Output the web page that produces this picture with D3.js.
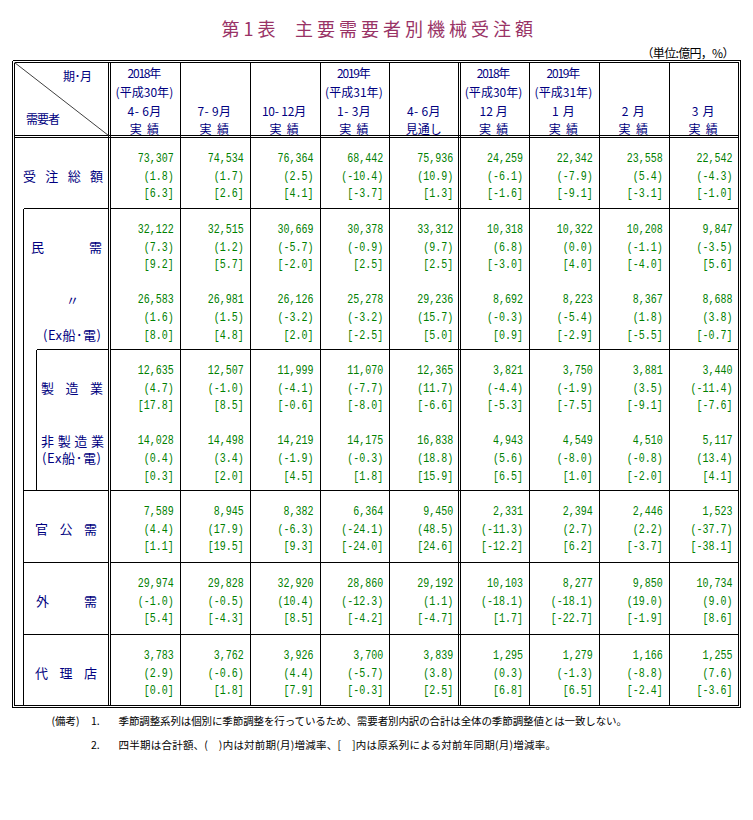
<!DOCTYPE html>
<html><head><meta charset="utf-8">
<script src="https://cdn.jsdelivr.net/npm/d3@7"></script>
<style>html,body{margin:0;padding:0;background:#fff;} svg{display:block}</style>
</head><body><div id="chart"></div>
<script>
// ---------- data ----------
const titleNo = "第1表";
const titleMain = "主要需要者別機械受注額";
const unitLabel = "（単位:億円，%）";
const cornerTop = "期･月";
const cornerBottom = "需要者";
const headerYears = ["2018年","","","2019年","","2018年","2019年","",""];
const headerEras = ["(平成30年)","","","(平成31年)","","(平成30年)","(平成31年)","",""];
const headerPeriods = ["4- 6月","7- 9月","10- 12月","1- 3月","4- 6月","12 月","1 月","2 月","3 月"];
const headerKinds = ["実 績","実 績","実 績","実 績","見通し","実 績","実 績","実 績","実 績"];
const demanderLabels = [["受注総額"],["民需"],["〃","(Ex船･電)"],["製造業"],["非製造業","(Ex船･電)"],["官公需"],["外需"],["代理店"]];

const orderAmounts = [
  [73307,74534,76364,68442,75936,24259,22342,23558,22542],
  [32122,32515,30669,30378,33312,10318,10322,10208,9847],
  [26583,26981,26126,25278,29236,8692,8223,8367,8688],
  [12635,12507,11999,11070,12365,3821,3750,3881,3440],
  [14028,14498,14219,14175,16838,4943,4549,4510,5117],
  [7589,8945,8382,6364,9450,2331,2394,2446,1523],
  [29974,29828,32920,28860,29192,10103,8277,9850,10734],
  [3783,3762,3926,3700,3839,1295,1279,1166,1255]
];
const changePrev = [
  [1.8,1.7,2.5,-10.4,10.9,-6.1,-7.9,5.4,-4.3],
  [7.3,1.2,-5.7,-0.9,9.7,6.8,0.0,-1.1,-3.5],
  [1.6,1.5,-3.2,-3.2,15.7,-0.3,-5.4,1.8,3.8],
  [4.7,-1.0,-4.1,-7.7,11.7,-4.4,-1.9,3.5,-11.4],
  [0.4,3.4,-1.9,-0.3,18.8,5.6,-8.0,-0.8,13.4],
  [4.4,17.9,-6.3,-24.1,48.5,-11.3,2.7,2.2,-37.7],
  [-1.0,-0.5,10.4,-12.3,1.1,-18.1,-18.1,19.0,9.0],
  [2.9,-0.6,4.4,-5.7,3.8,0.3,-1.3,-8.8,7.6]
];
const changeYoY = [
  [6.3,2.6,4.1,-3.7,1.3,-1.6,-9.1,-3.1,-1.0],
  [9.2,5.7,-2.0,2.5,2.5,-3.0,4.0,-4.0,5.6],
  [8.0,4.8,2.0,-2.5,5.0,0.9,-2.9,-5.5,-0.7],
  [17.8,8.5,-0.6,-8.0,-6.6,-5.3,-7.5,-9.1,-7.6],
  [0.3,2.0,4.5,1.8,15.9,6.5,1.0,-2.0,4.1],
  [1.1,19.5,9.3,-24.0,24.6,-12.2,6.2,-3.7,-38.1],
  [5.4,-4.3,8.5,-4.2,-4.7,1.7,-22.7,-1.9,8.6],
  [0.0,1.8,7.9,-0.3,2.5,6.8,6.5,-2.4,-3.6]
];
const noteLabel = "(備考)";
const noteNumbers = ["1.","2."];
const noteTexts = [
  "季節調整系列は個別に季節調整を行っているため、需要者別内訳の合計は全体の季節調整値とは一致しない。",
  "四半期は合計額、(　)内は対前期(月)増減率、[　]内は原系列による対前年同期(月)増減率。"
];

// ---------- layout ----------
const W = 753, H = 820;
const CJK = "'Noto Sans CJK JP','Noto Sans CJK SC',sans-serif";
const MONO = "'Liberation Mono','DejaVu Sans Mono',monospace";
const NAVY = "#000080", GREEN = "#008000", TITLE_C = "#993366";

const svg = d3.select("#chart").append("svg")
  .attr("width", W).attr("height", H)
  .style("background", "#fff");

const oL = 12.5, oR = 740.5, oT = 60.5, oB = 707.5;
const iL = 14.5, iR = 738.5, iT = 62.5, iB = 705.5;
const splitA = 108.5, splitB = 110.5;

const nCols = headerPeriods.length;
const x = d3.scaleBand().domain(d3.range(nCols)).range([110.5, 739]);
const edge = i => i < nCols ? x(i) : x.range()[1];
const snap = v => Math.round(v - 0.5) + 0.5;

const yRow = d3.scaleLinear().domain([0,1,3,5,6,7,8])
  .range([137.5,208.5,349.5,490.5,562.5,634.5,705.5]);
const lineY = (r, k) => yRow(r) + 20 + k * 17.8;

// ---------- lines ----------
const segs = [];
const H_ = (y, x1, x2) => segs.push({x1, y1: y, x2, y2: y});
const V_ = (xx, y1, y2) => segs.push({x1: xx, y1, x2: xx, y2});
H_(oT, oL, oR); H_(oB, oL, oR); V_(oL, oT, oB); V_(oR, oT, oB);
H_(iT, iL, iR); H_(iB, iL, iR); V_(iL, iT, iB); V_(iR, iT, iB);
H_(135.5, iL, iR); H_(137.5, iL, iR);
V_(splitA, iT, iB); V_(splitB, iT, iB);
for (let i = 1; i < nCols; i++) {
  const ex = snap(edge(i));
  if (i === 5) { V_(ex - 1, iT, iB); V_(ex + 1, iT, iB); }
  else V_(ex, iT, iB);
}
[1,3,5,6,7].forEach(r => H_(yRow(r), splitB, iR));
[1,5,6,7].forEach(r => H_(yRow(r), 23.5, splitA));
V_(23.5, yRow(1), iB);
H_(yRow(3), 36.5, splitA);
V_(36.5, yRow(3), yRow(5));

svg.append("g").attr("shape-rendering", "crispEdges")
  .selectAll("line").data(segs).join("line")
  .attr("x1", d => d.x1).attr("y1", d => d.y1)
  .attr("x2", d => d.x2).attr("y2", d => d.y2)
  .attr("stroke", "#000").attr("stroke-width", 1);

svg.append("line")
  .attr("x1", iL).attr("y1", iT).attr("x2", splitA).attr("y2", 135.5)
  .attr("stroke", "#404040").attr("stroke-width", 1);

// ---------- text helpers ----------
function txt(g, s, opts) {
  const t = g.append("text").text(s)
    .attr("x", opts.x).attr("y", opts.y)
    .attr("font-family", opts.font || CJK)
    .attr("font-size", opts.size)
    .attr("fill", opts.fill || "#000")
    .attr("text-anchor", opts.anchor || "start");
  if (opts.central) t.attr("dominant-baseline", "central");
  if (opts.len) t.attr("textLength", opts.len).attr("lengthAdjust", opts.adjust || "spacing");
  return t;
}
// estimated width: half-width chars 0.45em, full-width 1em
const estWidth = (s, size) => Array.from(s).reduce((a, ch) => {
  const c = ch.codePointAt(0);
  return a + ((c < 0x100 || (c >= 0xFF61 && c <= 0xFF9F)) ? 0.45 : 1) * size;
}, 0);

const g = svg.append("g");

txt(g, titleNo, {x: 221.5, y: 28, size: 18, fill: TITLE_C, central: true, len: 54});
txt(g, titleMain, {x: 295, y: 28, size: 18, fill: TITLE_C, central: true, len: 238});
txt(g, unitLabel, {x: 641.5, y: 52, size: 12, central: true, len: 93});

txt(g, cornerTop, {x: 63, y: 75, size: 12, fill: NAVY, central: true, len: 29});
txt(g, cornerBottom, {x: 26, y: 118, size: 12, fill: NAVY, central: true, len: 34});

const headRows = [headerYears, headerEras, headerPeriods, headerKinds];
const headY = [72.5, 91, 110.5, 128];
headRows.forEach((arr, k) => {
  arr.forEach((s, i) => {
    if (!s) return;
    const w = estWidth(s, 12);
    txt(g, s, {x: x(i) + x.bandwidth() / 2 - 1 - w / 2, y: headY[k], size: 12, fill: NAVY, central: true, len: w});
  });
});

const labelPlacement = [
  [{line: 1, x0: 23, x1: 103}],
  [{line: 1, x0: 31, x1: 102}],
  [{line: 0, mid: 72.5}, {line: 2, x0: 43, x1: 101}],
  [{line: 1, x0: 41, x1: 103}],
  [{line: 0, x0: 41, x1: 104}, {line: 1, x0: 42, x1: 101}],
  [{line: 1, x0: 35, x1: 97}],
  [{line: 1, x0: 36, x1: 97}],
  [{line: 1, x0: 35, x1: 97}]
];
demanderLabels.forEach((parts, r) => {
  parts.forEach((s, j) => {
    const p = labelPlacement[r][j];
    if (p.mid !== undefined) {
      txt(g, s, {x: p.mid, y: lineY(r, p.line), size: 13, fill: NAVY, central: true, anchor: "middle"});
    } else {
      txt(g, s, {x: p.x0, y: lineY(r, p.line), size: 13, fill: NAVY, central: true, len: p.x1 - p.x0});
    }
  });
});

const loc = d3.formatLocale({decimal: ".", thousands: ",", grouping: [3], currency: ["", ""], minus: "-"});
const fmtInt = loc.format(",");
const fmtPct = loc.format(".1f");
const CHW = 6;
orderAmounts.forEach((row, r) => {
  row.forEach((v, c) => {
    const strs = [fmtInt(v), "(" + fmtPct(changePrev[r][c]) + ")", "[" + fmtPct(changeYoY[r][c]) + "]"];
    const xEnd = edge(c + 1) - 6.5;
    strs.forEach((s, k) => {
      const w = s.length * CHW;
      txt(g, s, {x: xEnd - w, y: lineY(r, k) + 4.3, size: 12, font: MONO, fill: GREEN, len: w, adjust: "spacingAndGlyphs"});
    });
  });
});

const noteY = [720.5, 744];
txt(g, noteLabel, {x: 51.5, y: noteY[0], size: 10.5, central: true});
noteNumbers.forEach((s, i) => txt(g, s, {x: 91, y: noteY[i], size: 10.5, central: true}));
const noteEnds = [627, 556];
noteTexts.forEach((s, i) => txt(g, s, {x: 118.5, y: noteY[i], size: 10.5, central: true, len: noteEnds[i] - 118.5}));
</script>
</body></html>
